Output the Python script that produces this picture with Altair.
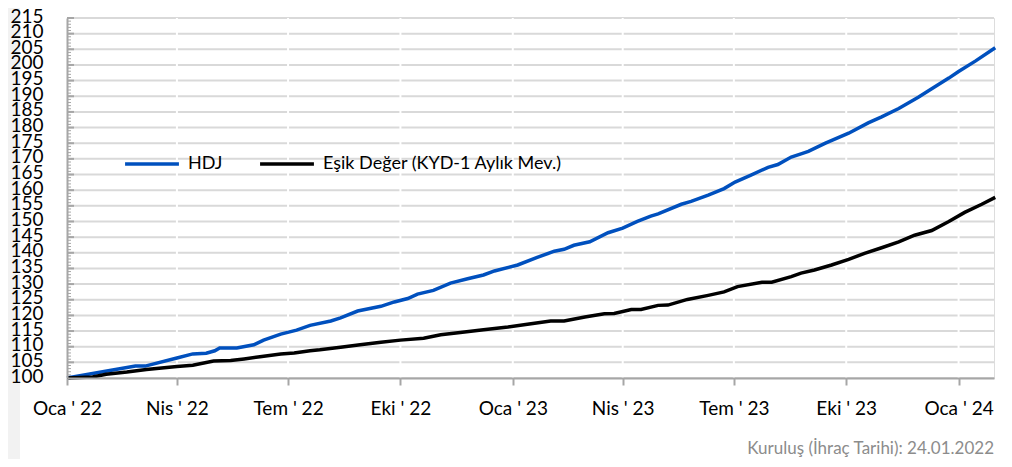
import altair as alt
import pandas as pd

launch = "2022-01-24"
series_names = ["HDJ", "Eşik Değer (KYD-1 Aylık Mev.)"]
series_colors = ["#0050BE", "#000000"]

hdj_days = [0, 35, 56, 64, 90, 103, 114, 121, 125, 139, 153, 161, 175, 188, 199,
            216, 224, 238, 257, 268, 279, 287, 300, 314, 328, 341, 350, 369, 385, 399,
            407, 415, 428, 443, 455, 467, 478, 484, 503, 511, 525, 538, 547, 560, 574,
            582, 593, 601, 607, 621, 640, 656, 667, 681, 697, 708, 722, 730, 744, 760]
hdj_vals = [100, 102.4, 103.8, 103.8, 106.4, 107.7, 107.9, 108.7, 109.6, 109.6, 110.6, 112.1, 114, 115.3, 116.8,
            118.2, 119.2, 121.4, 122.9, 124.3, 125.4, 126.8, 128, 130.3, 131.7, 132.9, 134.2, 136.1, 138.5, 140.5,
            141.1, 142.4, 143.5, 146.4, 147.9, 150, 151.7, 152.4, 155.5, 156.4, 158.4, 160.5, 162.6, 164.8, 167.3,
            168.2, 170.6, 171.6, 172.4, 175, 178.2, 181.5, 183.4, 186.1, 189.7, 192.4, 195.8, 197.9, 201.3, 205.5]

esik_days = [0, 21, 32, 49, 65, 90, 103, 120, 134, 145, 158, 175, 186, 199, 207,
             224, 240, 257, 273, 292, 306, 322, 341, 361, 377, 396, 407, 424, 440, 448,
             462, 470, 484, 492, 508, 525, 538, 549, 569, 577, 593, 601, 612, 626, 640,
             653, 667, 681, 694, 708, 722, 735, 749, 760]
esik_vals = [100, 100.3, 101.2, 101.9, 102.7, 103.7, 104.1, 105.4, 105.6, 106.1, 106.8, 107.7, 108, 108.7, 109,
             109.8, 110.6, 111.4, 112.1, 112.7, 113.8, 114.5, 115.4, 116.3, 117.2, 118.2, 118.2, 119.5, 120.5, 120.6,
             121.9, 121.9, 123.2, 123.3, 125.1, 126.4, 127.5, 129.2, 130.6, 130.6, 132.4, 133.5, 134.5, 136.1, 137.9,
             139.8, 141.6, 143.5, 145.6, 147.1, 150, 152.9, 155.5, 157.7]

x_ticks = ["2022-01-24", "2022-04-24", "2022-07-24", "2022-10-24", "2023-01-24",
           "2023-04-24", "2023-07-24", "2023-10-24", "2024-01-24"]
x_end = "2024-02-22"
y_ticks = list(range(100, 216, 5))
y_minor = list(range(100, 216, 1))
footer = "Kuruluş (İhraç Tarihi): 24.01.2022"

W, H = 927, 360
FONT = "Lato"

def to_dt(s):
    t = pd.Timestamp(s)
    return alt.DateTime(year=t.year, month=t.month, date=t.day)

base = pd.Timestamp(launch)
rows = []
for name, days, vals in [(series_names[0], hdj_days, hdj_vals), (series_names[1], esik_days, esik_vals)]:
    for d, v in zip(days, vals):
        rows.append({"date": (base + pd.Timedelta(days=d)).strftime("%Y-%m-%dT00:00:00"),
                     "value": v, "series": name})
df = pd.DataFrame(rows)

xscale = alt.Scale(domain=[to_dt(launch), to_dt(x_end)])
yscale = alt.Scale(domain=[100, 215], nice=False, zero=False)

label_expr = ("(month(datum.value)==0?'Oca':month(datum.value)==3?'Nis':"
              "month(datum.value)==6?'Tem':'Eki') + \" ' \" + timeFormat(datum.value,'%y')")
xaxis = alt.Axis(values=[to_dt(s) for s in x_ticks], labelExpr=label_expr, title=None,
                 grid=False, domainColor="#a6a6a6", domainWidth=2, tickColor="#a6a6a6",
                 tickWidth=2, tickSize=7, labelPadding=14, labelFont=FONT, labelFontSize=19,
                 labelColor="#000000", labelFlush=False, labelOverlap=False, zindex=1)
yaxis = alt.Axis(values=y_ticks, title=None, grid=False, domainColor="#a6a6a6", domainWidth=2,
                 ticks=False, tickSize=0, labelPadding=24, labelFont=FONT, labelFontSize=19,
                 labelColor="#000000", labelOverlap=False, labelOffset=-2, labelFlush=False,
                 zindex=1)

strip = alt.Chart(pd.DataFrame({"a": [0]})).mark_rect(color="#f2f2f2").encode(
    x=alt.value(-59), x2=alt.value(-47), y=alt.value(-10), y2=alt.value(446))

hgrid = alt.Chart(pd.DataFrame({"v": y_ticks})).mark_rule(color="#d9d9d9", strokeWidth=2).encode(
    y=alt.Y("v:Q", scale=yscale, axis=yaxis), x=alt.value(0), x2=alt.value(W))

vgrid = alt.Chart(pd.DataFrame({"d": [s + "T00:00:00" for s in x_ticks]})).mark_rule(
    color="#ffffff", strokeWidth=2).encode(
    x=alt.X("d:T", scale=xscale, axis=xaxis), y=alt.value(0), y2=alt.value(H))

minor = alt.Chart(pd.DataFrame({"v": y_minor})).mark_rule(color="#a6a6a6", strokeWidth=1).encode(
    y=alt.Y("v:Q", scale=yscale, axis=yaxis), x=alt.value(0), x2=alt.value(4))
major = alt.Chart(pd.DataFrame({"v": y_ticks})).mark_rule(color="#a6a6a6", strokeWidth=2).encode(
    y=alt.Y("v:Q", scale=yscale, axis=yaxis), x=alt.value(0), x2=alt.value(7))

lines = alt.Chart(df).mark_line(strokeWidth=3.5).encode(
    x=alt.X("date:T", scale=xscale, axis=xaxis),
    y=alt.Y("value:Q", scale=yscale, axis=yaxis),
    color=alt.Color("series:N", scale=alt.Scale(domain=series_names, range=series_colors),
                    legend=alt.Legend(title=None, orient="none", legendX=56, legendY=117,
                                      direction="horizontal", symbolType="stroke",
                                      symbolSize=2900, symbolStrokeWidth=3.5,
                                      labelFont=FONT, labelFontSize=18, labelColor="#000000",
                                      labelOffset=7, columnPadding=30, padding=0,
                                      labelLimit=400)),
    detail="series:N")

foot = alt.Chart(pd.DataFrame({"t": [footer]})).mark_text(
    align="right", baseline="middle", font=FONT, fontSize=17, color="#8c8c8c").encode(
    text="t:N", x=alt.value(W), y=alt.value(431))

chart = alt.layer(strip, hgrid, vgrid, minor, major, lines, foot).properties(
    width=W, height=H,
    autosize=alt.AutoSizeParams(type="none"),
    padding={"left": 59, "top": 10, "right": 10, "bottom": 81},
).configure_view(stroke=None).configure(background="#ffffff")

chart.save("out.html", embed_options={"renderer": "svg", "actions": False})
